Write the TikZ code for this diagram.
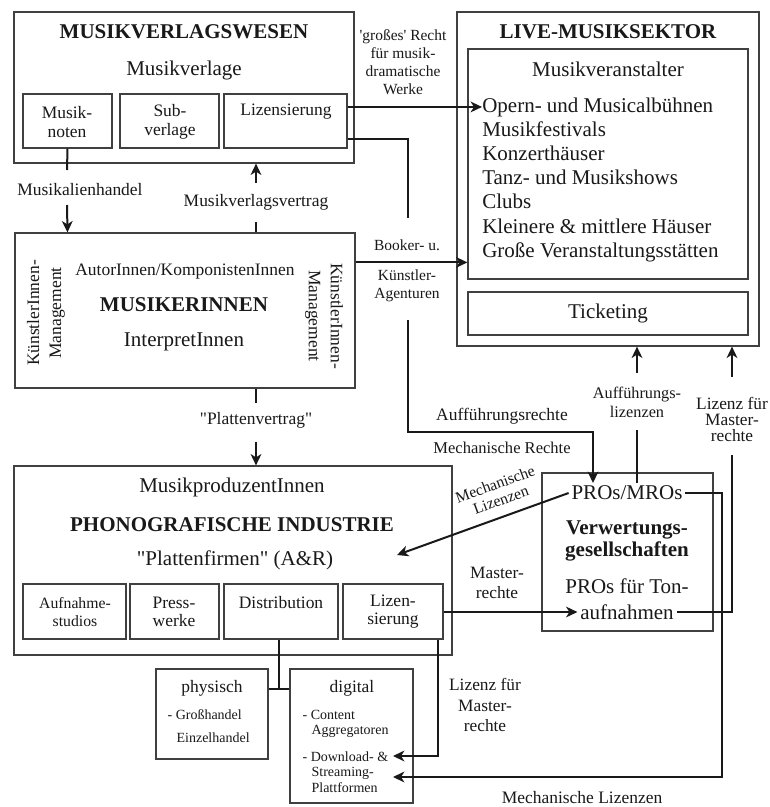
\documentclass[tikz,border=0pt]{standalone}
\usepackage{fontspec}
\setmainfont{Liberation Serif}
\usetikzlibrary{fit,calc,arrows.meta}
\begin{document}
\begin{tikzpicture}[x=0.75pt,y=-0.75pt,
  box/.style={draw=black!75,line width=0.9pt,inner sep=0pt},
  conn/.style={draw=black!90,line width=1.5pt},
  arr/.style={conn,-{Stealth[length=8.5pt,width=8pt,inset=2.5pt]}},
  txt/.style={text=black!90,inner sep=1pt},
  fs/.style 2 args={txt,font=\fontsize{#1}{#2}\selectfont},
  big/.style={fs={15.75pt}{18pt}},
  bigb/.style={txt,font=\fontsize{15.75pt}{16.5pt}\selectfont\bfseries},
  med/.style={fs={13.1pt}{14.5pt}},
  sml/.style={fs={11.6pt}{13.5pt}},
  tny/.style={fs={10.5pt}{12pt}}]
\fill[white] (0,0) rectangle (770,807);
\useasboundingbox (0,0) rectangle (770,807);

% ---------- boxes ----------
\node[box,fit={(14,12)(354,163)}] (mvw) {};
\node[box,fit={(23,94)(112,148)}] (mvNoten) {};
\node[box,fit={(120,94)(219,148)}] (mvSub) {};
\node[box,fit={(224,94)(347,148)}] (mvLiz) {};
\node[box,fit={(457,12)(759,346)}] (live) {};
\node[box,fit={(468,49)(748,279)}] (veran) {};
\node[box,fit={(468,292)(748,335)}] (ticket) {};
\node[box,fit={(15,233)(355,388)}] (musiker) {};
\node[box,fit={(14,466)(452,655)}] (phono) {};
\node[box,fit={(23,584)(126,639)}] (aufn) {};
\node[box,fit={(130,584)(219,639)}] (press) {};
\node[box,fit={(224,584)(338,639)}] (distr) {};
\node[box,fit={(343,584)(443,639)}] (plizen) {};
\node[box,fit={(542,473)(713,631)}] (verw) {};
\node[box,fit={(156,669)(268,759)}] (phys) {};
\node[box,fit={(290,669)(413,803)}] (digi) {};

% ---------- Musikverlagswesen ----------
\node[bigb] (tMV) at (184,32) {MUSIKVERLAGSWESEN};
\node[big] (tMVl) at (184,70) {Musikverlage};
\node[fs={13.1pt}{14.3pt},align=center] (tNoten) at (67,122) {Musik-\\noten};
\node[fs={13.1pt}{14.3pt},align=center] (tSub) at (170,122) {Sub-\\verlage};
\node[med] (tLiz) at (286,112) {Lizensierung};

\node[med] (lblHandel) at (80,190) {Musikalienhandel};
\node[med] (lblVertrag) at (256,202) {Musikverlagsvertrag};
\node[fs={11.6pt}{13.4pt},align=center] (lblGross) at (403,62) {\textquotesingle großes\textquotesingle{} Recht\\für musik-\\dramatische\\Werke};

% ---------- Live ----------
\node[bigb] (tLive) at (608,32) {LIVE-MUSIKSEKTOR};
\node[big] (tVeran) at (608,69) {Musikveranstalter};
\foreach \t [count=\i from 0] in {Opern- und Musicalbühnen,Musikfestivals,Konzerthäuser,Tanz- und Musikshows,Clubs,Kleinere \& mittlere Häuser,Große Veranstaltungsstätten}
  \node[big,anchor=base west,inner sep=0pt] (item\i) at (482,{112+24.2*\i}) {\t};
\node[big] (tTicket) at (608,313) {Ticketing};

% ---------- Musikerinnen ----------
\node[sml] (lblBooker) at (407,245) {Booker- u.};
\node[fs={11.6pt}{13.6pt},align=center] (lblAgent) at (407,286) {Künstler-\\Agenturen};
\node[med] (tAutor) at (185,272) {AutorInnen/KomponistenInnen};
\node[bigb] (tMusiker) at (184,305) {MUSIKERINNEN};
\node[big] (tInterp) at (184,342) {InterpretInnen};
\node[fs={13.1pt}{16.5pt},align=center,rotate=90] (tMgmtL) at (46,313) {KünstlerInnen-\\Management};
\node[fs={13.1pt}{16.5pt},align=center,rotate=-90] (tMgmtR) at (324,316) {KünstlerInnen-\\Management};
\node[med] (lblPlatten) at (256,420) {\textquotedbl Plattenvertrag\textquotedbl};

% ---------- Phonografische Industrie ----------
\node[big] (tProd) at (232,487) {MusikproduzentInnen};
\node[bigb] (tPhono) at (232,525) {PHONOGRAFISCHE INDUSTRIE};
\node[big] (tFirmen) at (235,560) {\textquotedbl Plattenfirmen\textquotedbl{} (A\&R)};
\node[fs={11.8pt}{13.5pt},align=center] (tAufn) at (75,612) {Aufnahme-\\studios};
\node[fs={13.1pt}{13.5pt},align=center] (tPress) at (174,612) {Press-\\werke};
\node[med] (tDistr) at (281,603) {Distribution};
\node[fs={13.1pt}{13.5pt},align=center] (tPliz) at (393,612) {Lizen-\\sierung};

% ---------- Verwertungsgesellschaften ----------
\node[big,inner sep=2pt] (prosmros) at (627,493) {PROs/MROs};
\node[txt,font=\fontsize{15.75pt}{16.5pt}\selectfont\bfseries,align=center] (tVerw) at (627,541) {Verwertungs-\\gesellschaften};
\node[big] (tonA) at (627,586) {PROs für Ton-};
\node[big,inner sep=2pt] (tonB) at (627,612) {aufnahmen};

\node[med] (lblAuffR) at (502,416) {Aufführungsrechte};
\node[fs={12.4pt}{14pt}] (lblMechR) at (502,448) {Mechanische Rechte};
\node[fs={12.2pt}{14.2pt},align=center] (lblAuffL) at (637,402) {Aufführungs-\\lizenzen};
\node[fs={13pt}{12pt},align=center] (lblLizM) at (732,419) {Lizenz für\\Master-\\rechte};
\node[fs={11.8pt}{12.5pt},align=center,rotate=20,inner sep=0pt] (lblMechL) at (498,492) {Mechanische\\Lizenzen};
\node[fs={13pt}{15pt},align=center] (lblMaster) at (497,583) {Master-\\rechte};
\node[fs={13pt}{15.4pt},align=center] (lblLizM2) at (485,705) {Lizenz für\\Master-\\rechte};
\node[med] (lblMechL2) at (582,798) {Mechanische Lizenzen};

% ---------- physisch / digital ----------
\node[med] (tPhys) at (212,688) {physisch};
\node[tny,anchor=west] (pGross) at (166,715) {- Großhandel};
\node[tny,anchor=west] (pEinzel) at (175,738) {Einzelhandel};
\node[med] (tDigi) at (352,688) {digital};
\node[tny,anchor=west] (dContent) at (301,715) {- Content};
\node[tny,anchor=west] (dAggr) at (310,731) {Aggregatoren};
\node[tny,anchor=west] (dDown) at (301,757) {- Download- \&};
\node[tny,anchor=west] (dStream) at (310,773) {Streaming-};
\node[tny,anchor=west] (dPlatt) at (310,788) {Plattformen};

% ---------- helper coordinates ----------
\coordinate (h1) at (67,170);
\coordinate (h2) at (67,205);
\coordinate (v1) at (256,222);
\coordinate (v2) at (256,183);
\coordinate (p1) at (256,403);
\coordinate (p2) at (256,442);
\coordinate (k1) at (408,218);
\coordinate (k2) at (408,320);
\coordinate (k3) at (593,432);
\coordinate (a1) at (637,430);
\coordinate (a2) at (637,373);
\coordinate (m1) at (732,455);
\coordinate (m2) at (732,377);
\coordinate (mlEnd) at (397,555);
\coordinate (mlC) at (722,777);
\coordinate (dgIn1) at (393,756);
\coordinate (dgIn2) at (393,777);
\coordinate (dj) at (279,689);
\path ($(mvLiz.south east)+(0,-10)$) coordinate (lz2);
\path ($(musiker.north east)+(0,30)$) coordinate (bkS);
\path ($(plizen.south east)+(-6,0)$) coordinate (plB);

% ---------- connectors ----------
\draw[conn] (mvNoten.south) -- (h1);
\draw[arr] (h2) -- (mvNoten.south |- musiker.north);
\draw[conn] (musiker.north -| v1) -- (v1);
\draw[arr] (v2) -- (mvw.south -| v2);
\draw[arr] (mvLiz.east |- item0.west) -- (item0.west);
\draw[conn] (lz2) -| (k1);
\draw[arr] (k2) |- (k3) -- (k3 |- prosmros.north);
\draw[arr] (bkS) -- (bkS -| veran.west);
\draw[conn] (musiker.south -| p1) -- (p1);
\draw[arr] (p2) -- (phono.north -| p2);
\draw[arr] (prosmros.west) -- (mlEnd);
\draw[arr] (plizen.east |- tonB.west) -- (tonB.west);
\draw[conn] (tonB.east) -| (m1);
\draw[arr] (m2) -- (live.south -| m2);
\draw[conn] (prosmros.north -| a1) -- (a1);
\draw[arr] (a2) -- (live.south -| a2);
\draw[arr] (prosmros.east) -| (mlC) -- (dgIn2);
\draw[arr] (plB) |- (dgIn1);
\draw[conn] (distr.south -| dj) -- (dj);
\draw[conn] (phys.east |- dj) -- (digi.west |- dj);
\end{tikzpicture}
\end{document}
